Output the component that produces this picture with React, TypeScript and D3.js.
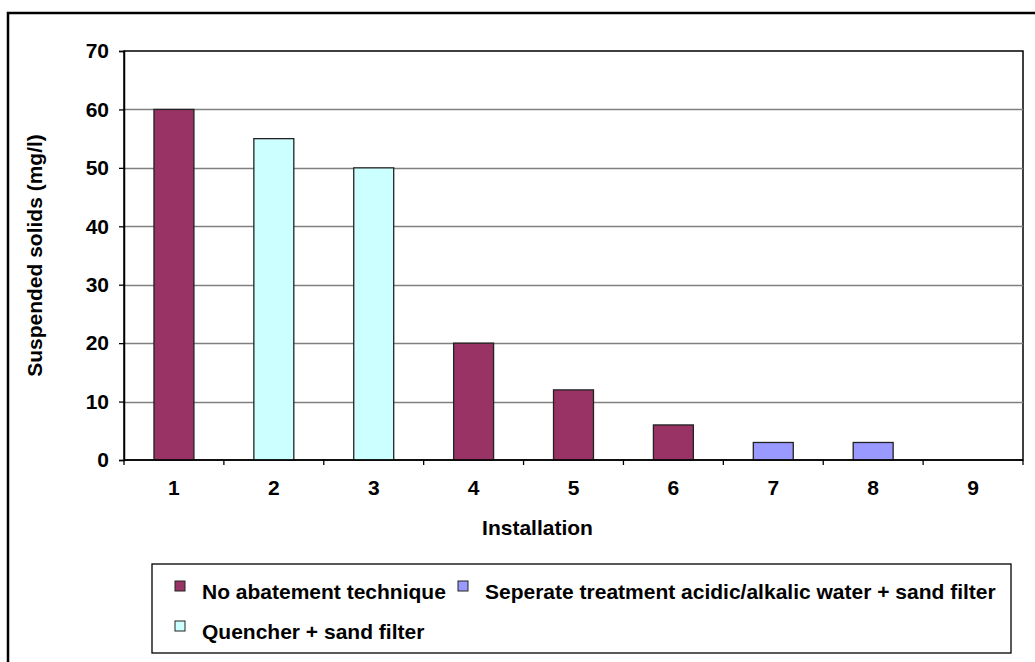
import React, { useEffect, useRef } from 'react';
import * as d3 from 'd3';

const installations = ['1', '2', '3', '4', '5', '6', '7', '8', '9'];
const suspendedSolids = [60, 55, 50, 20, 12, 6, 3, 3, 0];
const technique = [0, 1, 1, 0, 0, 0, 2, 2, 0];
const techniqueNames = [
  'No abatement technique',
  'Quencher + sand filter',
  'Seperate treatment acidic/alkalic water + sand filter',
];
const techniqueColors = ['#993366', '#CCFFFF', '#9999FF'];
const yTicks = [0, 10, 20, 30, 40, 50, 60, 70];

const App: React.FC = () => {
  const ref = useRef<SVGSVGElement | null>(null);

  useEffect(() => {
    if (!ref.current) return;
    const svg = d3.select(ref.current);
    svg.selectAll('*').remove();

    const font = '"Liberation Sans", Arial, sans-serif';
    const fontSize = '21px';
    const left = 124, right = 1023, top = 51, bottom = 460;

    // outer frame
    svg.append('rect')
      .attr('x', 8).attr('y', 13)
      .attr('width', 1100).attr('height', 700)
      .attr('fill', 'white')
      .attr('stroke', 'black')
      .attr('stroke-width', 2.5);

    const x = d3.scaleBand().domain(installations).range([left, right]).paddingInner(0.6).paddingOuter(0.3);
    const xBand = d3.scaleBand().domain(installations).range([left, right]);
    const y = d3.scaleLinear().domain([0, 70]).range([bottom, top]);

    // plot frame
    svg.append('rect')
      .attr('x', left).attr('y', top)
      .attr('width', right - left).attr('height', bottom - top)
      .attr('fill', 'white')
      .attr('stroke', 'black')
      .attr('stroke-width', 1.5);

    // grid lines
    svg.append('g')
      .selectAll('line')
      .data(yTicks.filter(t => t > 0 && t < 70))
      .enter()
      .append('line')
      .attr('x1', left).attr('x2', right)
      .attr('y1', d => Math.round(y(d)) + 0.5).attr('y2', d => Math.round(y(d)) + 0.5)
      .attr('stroke', '#808080')
      .attr('stroke-width', 1.3);

    // bars
    svg.append('g')
      .selectAll('rect')
      .data(suspendedSolids)
      .enter()
      .append('rect')
      .attr('x', (_, i) => x(installations[i])!)
      .attr('y', d => y(d))
      .attr('width', x.bandwidth())
      .attr('height', d => bottom - y(d))
      .attr('fill', (_, i) => techniqueColors[technique[i]])
      .attr('stroke', (d) => d > 0 ? '#222' : 'none')
      .attr('stroke-width', 1.3);

    // y axis
    const yAxis = svg.append('g')
      .attr('transform', `translate(${left},0)`)
      .call(d3.axisLeft(y).tickValues(yTicks).tickSize(5).tickPadding(10));
    yAxis.select('.domain').attr('stroke', 'black').attr('stroke-width', 1.5);
    yAxis.selectAll('line').attr('stroke', 'black').attr('stroke-width', 1.3);
    yAxis.selectAll('text')
      .style('font-family', font).style('font-size', fontSize).style('font-weight', 'bold').attr('fill', 'black');

    // x axis
    const xAxis = svg.append('g').attr('transform', `translate(0,${bottom})`);
    xAxis.append('line')
      .attr('x1', left).attr('x2', right)
      .attr('stroke', 'black').attr('stroke-width', 1.5);
    const bounds = installations.map(d => xBand(d)!).concat([right]);
    xAxis.selectAll('line.tick')
      .data(bounds)
      .enter()
      .append('line')
      .attr('class', 'tick')
      .attr('x1', d => d).attr('x2', d => d)
      .attr('y1', 0).attr('y2', 5)
      .attr('stroke', 'black').attr('stroke-width', 1.3);
    xAxis.selectAll('text')
      .data(installations)
      .enter()
      .append('text')
      .attr('x', d => xBand(d)! + xBand.bandwidth() / 2)
      .attr('y', 35)
      .attr('text-anchor', 'middle')
      .style('font-family', font).style('font-size', fontSize).style('font-weight', 'bold')
      .text(d => d);

    // axis titles
    svg.append('text')
      .attr('x', (left + right) / 2 - 36).attr('y', 535)
      .attr('text-anchor', 'middle')
      .style('font-family', font).style('font-size', fontSize).style('font-weight', 'bold')
      .text('Installation');
    svg.append('text')
      .attr('transform', `translate(42,${(top + bottom) / 2}) rotate(-90)`)
      .attr('text-anchor', 'middle')
      .style('font-family', font).style('font-size', fontSize).style('font-weight', 'bold')
      .text('Suspended solids (mg/l)');

    // legend
    const legend = svg.append('g');
    legend.append('rect')
      .attr('x', 152).attr('y', 564)
      .attr('width', 859).attr('height', 89)
      .attr('fill', 'white')
      .attr('stroke', 'black')
      .attr('stroke-width', 1.3);
    const legendPos = [
      { sx: 175, ty: 599 },
      { sx: 175, ty: 639 },
      { sx: 458, ty: 599 },
    ];
    legendPos.forEach((p, i) => {
      legend.append('rect')
        .attr('x', p.sx).attr('y', p.ty - 18)
        .attr('width', 10).attr('height', 10)
        .attr('fill', techniqueColors[i])
        .attr('stroke', '#222')
        .attr('stroke-width', 1);
      legend.append('text')
        .attr('x', p.sx + 27).attr('y', p.ty)
        .style('font-family', font).style('font-size', fontSize).style('font-weight', 'bold')
        .text(techniqueNames[i]);
    });
  }, []);

  return (
    <svg ref={ref} width={1035} height={662} style={{ position: 'absolute', left: 0, top: 0, background: 'white' }} />
  );
};

export default App;
